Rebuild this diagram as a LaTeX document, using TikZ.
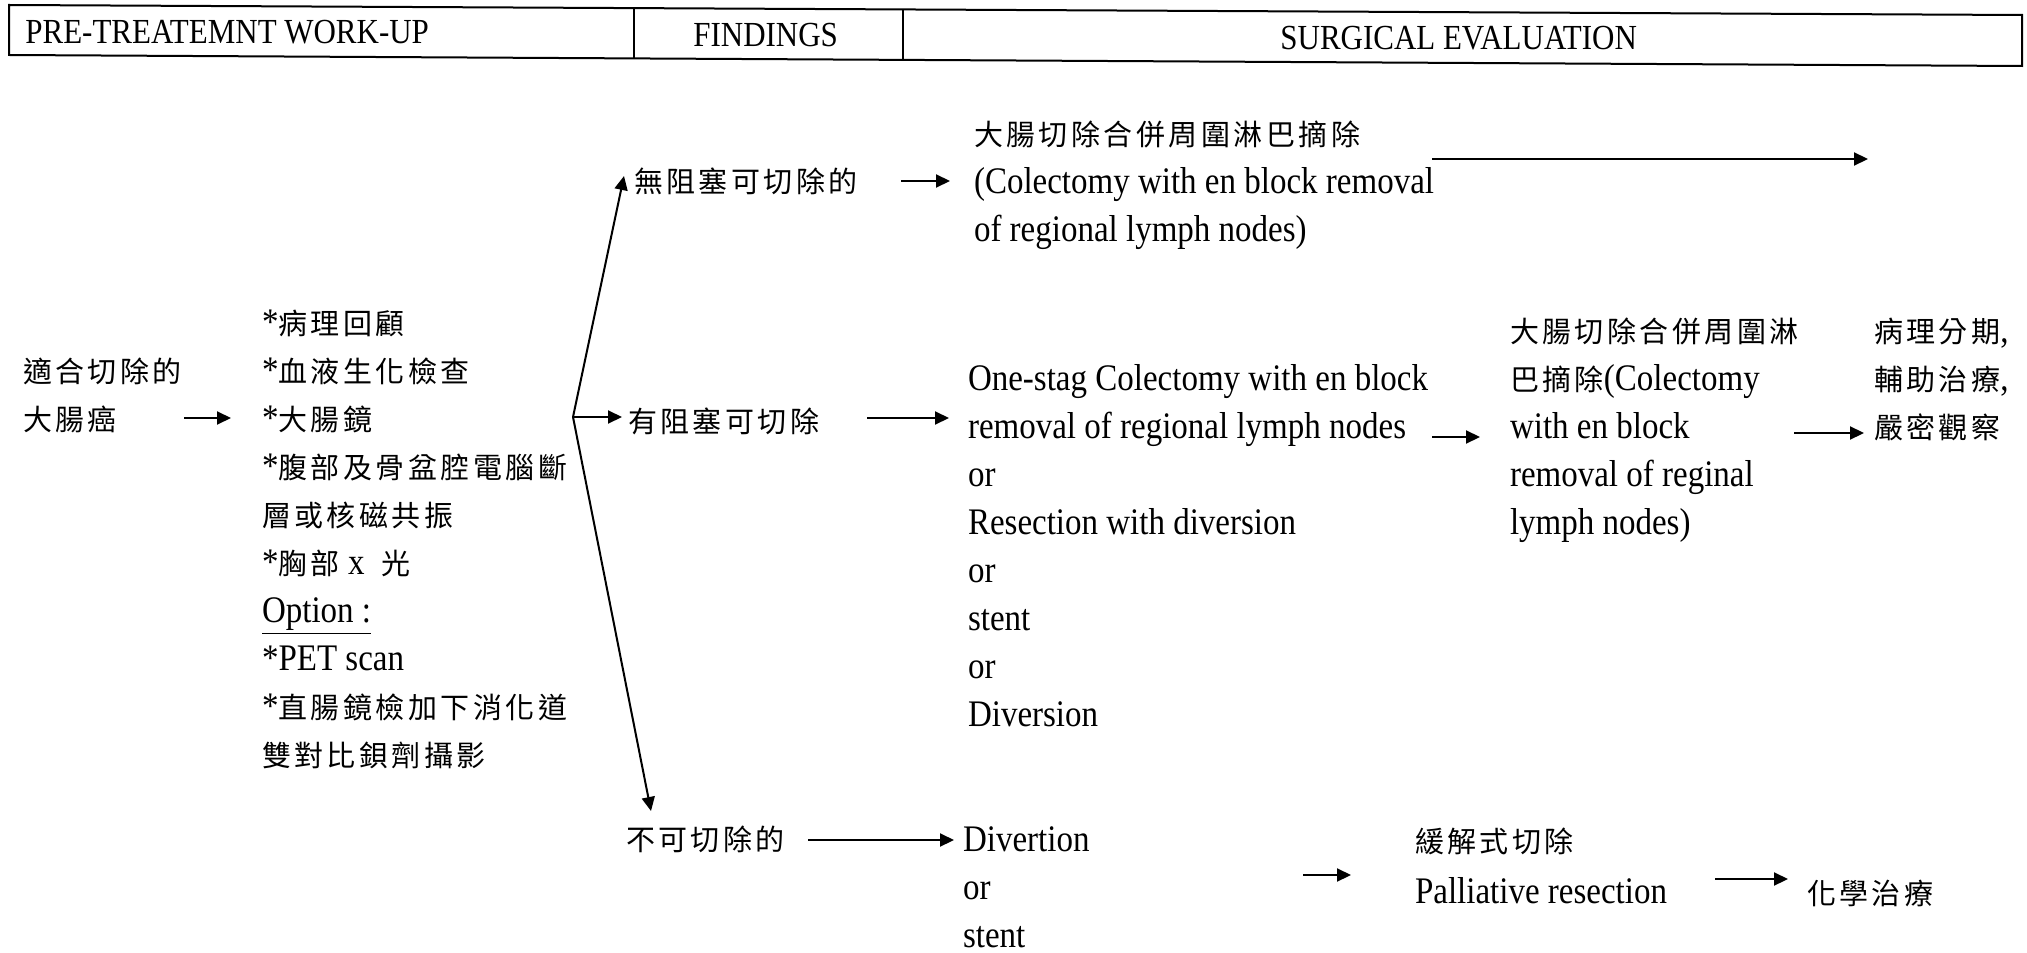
\documentclass[tikz,border=0pt]{standalone}
\usepackage{fontspec}
\setmainfont{Liberation Serif}[FakeStretch=0.88]
\newfontfamily\cjkfont{Noto Sans CJK TC}[LetterSpace=12]
\usetikzlibrary{arrows.meta}
\newcommand\zhtxt[1]{{\cjkfont\fontsize{14.5pt}{24pt}\selectfont #1}}
\newcommand\bodyfs{\fontsize{18.75pt}{24pt}\selectfont}
\newcommand\headfs{\fontsize{17.6pt}{20pt}\selectfont}
\begin{document}
\begin{tikzpicture}[x=0.5pt,y=-0.5pt,
  blk/.style={anchor=north west, align=left, inner sep=0pt, outer sep=0pt, font=\bodyfs},
  hd/.style={anchor=base west, inner sep=0pt, font=\headfs},
  arr/.style={-{Triangle[length=7pt,width=6.5pt]}, line width=1pt},
  frame/.style={line width=1pt}]
\useasboundingbox (0,0) rectangle (2027,952);

% header band
\coordinate (h1) at (9,5);
\coordinate (h2) at (2022,15);
\coordinate (h3) at (2022,66);
\coordinate (h4) at (9,55);
\draw[frame] (h1) -- (h2) -- (h3) -- (h4) -- cycle;
\coordinate (d1t) at (634,8.1);
\coordinate (d1b) at (634,58.4);
\coordinate (d2t) at (903,9.4);
\coordinate (d2b) at (903,59.9);
\draw[frame] (d1t) -- (d1b);
\draw[frame] (d2t) -- (d2b);
\node[hd] (hA) at (25,44) {PRE-TREATEMNT WORK-UP};
\node[hd] (hB) at (693,47) {FINDINGS};
\node[hd] (hC) at (1280,50) {SURGICAL EVALUATION};

% text blocks
\node[blk] (L1) at (23,349) {\strut\zhtxt{適合切除的}\\\zhtxt{大腸癌}};
\node[blk] (WU) at (262,301) {\strut*\zhtxt{病理回顧}\\
*\zhtxt{血液生化檢查}\\
*\zhtxt{大腸鏡}\\
*\zhtxt{腹部及骨盆腔電腦斷}\\
\zhtxt{層或核磁共振}\\
*\zhtxt{胸部} x \ \zhtxt{光}\\
\underline{Option :}\\
*PET scan\\
*\zhtxt{直腸鏡檢加下消化道}\\
\zhtxt{雙對比鋇劑攝影}};
\node[blk] (NB) at (634,159) {\strut\zhtxt{無阻塞可切除的}};
\node[blk] (C1) at (974,112) {\strut\zhtxt{大腸切除合併周圍淋巴摘除}\\(Colectomy with en block removal\\of regional lymph nodes)};
\node[blk] (OB) at (628,399) {\strut\zhtxt{有阻塞可切除}};
\node[blk] (OS) at (968,357) {\strut One-stag Colectomy with en block\\removal of regional lymph nodes\\or\\Resection with diversion\\or\\stent\\or\\Diversion};
\node[blk] (R1) at (1510,309) {\strut\zhtxt{大腸切除合併周圍淋}\\\zhtxt{巴摘除}(Colectomy\\with en block\\removal of reginal\\lymph nodes)};
\node[blk] (P1) at (1874,309) {\strut\zhtxt{病理分期},\\\zhtxt{輔助治療},\\\zhtxt{嚴密觀察}};
\node[blk] (NR) at (626,817) {\strut\zhtxt{不可切除的}};
\node[blk] (DV) at (963,818) {\strut Divertion\\or\\stent};
\node[blk] (PR) at (1415,819) {\strut\zhtxt{緩解式切除}\\[1.5pt]Palliative resection};
\node[blk] (CH) at (1807,871) {\strut\zhtxt{化學治療}};

% branch
\coordinate (br) at (573,417);
\coordinate (bu) at (624,176);
\coordinate (bm) at (622,417);
\coordinate (bd) at (651,811);
\draw[arr] (br) -- (bu);
\draw[arr] (br) -- (bm);
\draw[arr] (br) -- (bd);

% arrows
\coordinate (a1s) at (184,418); \coordinate (a1e) at (231,418);
\coordinate (a2s) at (901,181); \coordinate (a2e) at (950,181);
\coordinate (a3s) at (1432,159); \coordinate (a3e) at (1868,159);
\coordinate (a4s) at (867,418); \coordinate (a4e) at (949,418);
\coordinate (a5s) at (1432,437); \coordinate (a5e) at (1480,437);
\coordinate (a6s) at (1794,433); \coordinate (a6e) at (1864,433);
\coordinate (a7s) at (808,840); \coordinate (a7e) at (954,840);
\coordinate (a8s) at (1303,875); \coordinate (a8e) at (1351,875);
\coordinate (a9s) at (1715,879); \coordinate (a9e) at (1788,879);
\draw[arr] (a1s) -- (a1e);
\draw[arr] (a2s) -- (a2e);
\draw[arr] (a3s) -- (a3e);
\draw[arr] (a4s) -- (a4e);
\draw[arr] (a5s) -- (a5e);
\draw[arr] (a6s) -- (a6e);
\draw[arr] (a7s) -- (a7e);
\draw[arr] (a8s) -- (a8e);
\draw[arr] (a9s) -- (a9e);
\end{tikzpicture}
\end{document}
